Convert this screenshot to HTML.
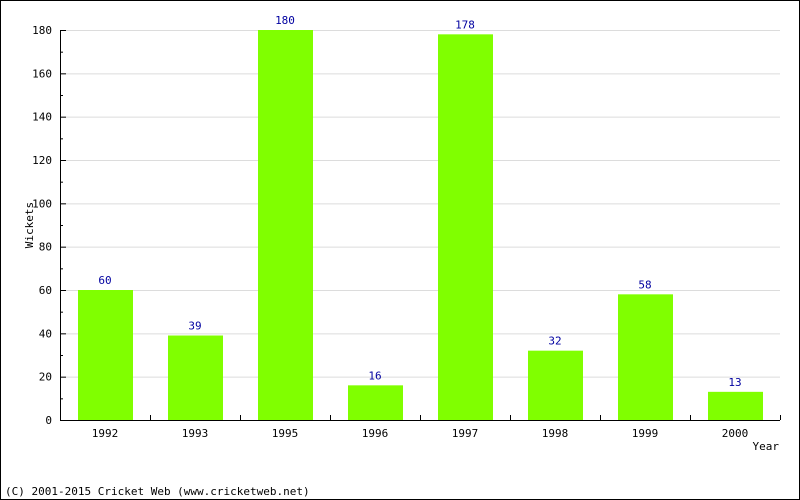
<!DOCTYPE html>
<html><head><meta charset="utf-8"><style>
html,body{margin:0;padding:0;background:#fff}
svg{display:block}
text{font-family:"DejaVu Sans Mono","Liberation Mono",monospace;font-size:11px}
</style></head><body>
<svg id="chart" width="800" height="500" viewBox="0 0 800 500">
<rect x="0.5" y="0.5" width="799" height="499" fill="#fff" stroke="#000"/>
<g id="grid"></g>
<g id="bars"></g>
<g id="axes"></g>
<text x="33" y="225" text-anchor="middle" transform="rotate(-90 33 225)">Wickets</text>
<text x="779" y="450" text-anchor="end">Year</text>
<text x="5" y="495">(C) 2001-2015 Cricket Web (www.cricketweb.net)</text>
</svg>
<script>
const categories = ["1992","1993","1995","1996","1997","1998","1999","2000"];
const values = [60,39,180,16,178,32,58,13];
const yTicks = [0,20,40,60,80,100,120,140,160,180];
const NS="http://www.w3.org/2000/svg";
const L=60,R=780,T=30,B=420,yMax=180;
const y=v=>B-(v/yMax)*(B-T);
const bw=(R-L)/categories.length;
const x=i=>L+i*bw;
function mk(tag,attrs,parent){const e=document.createElementNS(NS,tag);for(const k in attrs)e.setAttribute(k,attrs[k]);parent.appendChild(e);return e;}
const grid=document.getElementById('grid'),bars=document.getElementById('bars'),axes=document.getElementById('axes');
yTicks.forEach(t=>{
  if(t>0){const g=mk('line',{x1:L,x2:R,y1:y(t)+0.5,y2:y(t)+0.5,stroke:'#dcdcdc'},grid);
  
  }
  const tk=mk('line',{x1:L,x2:L+6,y1:y(t)+0.5,y2:y(t)+0.5,stroke:'#000'},axes);
  
  
  const lb=mk('text',{x:L-8,y:y(t)+4,'text-anchor':'end'},axes);lb.textContent=t;
  
  
});
for(let i=0;i<yTicks.length-1;i++){
  const m=(yTicks[i]+yTicks[i+1])/2;
  const tk=mk('line',{x1:L,x2:L+3,y1:y(m)+0.5,y2:y(m)+0.5,stroke:'#000'},axes);
  
  
}
categories.forEach((c,i)=>{
  const v=values[i];
  const r=mk('rect',{x:x(i)+18,y:y(v),width:bw-35,height:B-y(v),fill:'#80ff00'},bars);
  
  
  const vl=mk('text',{x:x(i)+bw/2,y:y(v)-6,'text-anchor':'middle',fill:'#0000a0'},bars);vl.textContent=v;
  
  
  const cl=mk('text',{x:x(i)+bw/2,y:B+17,'text-anchor':'middle'},axes);cl.textContent=c;
  
  
  const tk=mk('line',{x1:x(i+1)+0.5,x2:x(i+1)+0.5,y1:B-5,y2:B,stroke:'#000'},axes);
  
  
});
const ya=mk('line',{x1:L+0.5,x2:L+0.5,y1:T,y2:B+1,stroke:'#000'},axes);


const xa=mk('line',{x1:L,x2:R,y1:B+0.5,y2:B+0.5,stroke:'#000'},axes);


</script>
</body></html>
